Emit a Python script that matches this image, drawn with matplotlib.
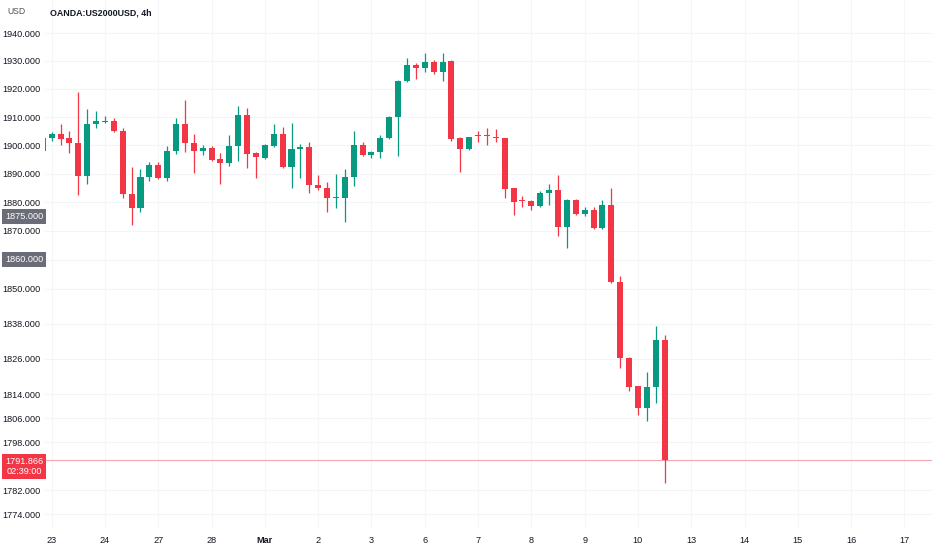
import numpy as np
import matplotlib

matplotlib.use("Agg")
import matplotlib.pyplot as plt
from matplotlib.ticker import FixedLocator, FixedFormatter, NullLocator

plt.rcParams["font.family"] = ["Liberation Sans", "DejaVu Sans"]

# 4h candles, OANDA:US2000USD, last bar of Feb 22 (index -1) to Mar 10
opens = [1898.1, 1902.6, 1903.8, 1902.5, 1900.8, 1889.0, 1907.5, 1908.4, 1908.7, 1905.2,
         1883.0, 1878.0, 1888.7, 1893.0, 1888.3, 1898.1, 1907.5, 1900.8, 1897.9, 1899.0,
         1895.1, 1893.6, 1899.6, 1910.7, 1897.2, 1895.5, 1899.9, 1903.8, 1892.2, 1898.7,
         1899.5, 1886.0, 1885.1, 1881.3, 1881.3, 1888.7, 1900.1, 1896.6, 1897.5, 1902.6,
         1910.1, 1922.9, 1928.5, 1927.4, 1929.6, 1926.1, 1929.9, 1902.5, 1898.7, 1903.5,
         1903.5, 1903.0, 1902.5, 1884.8, 1880.5, 1880.4, 1878.6, 1883.1, 1884.2, 1871.3,
         1880.6, 1875.7, 1877.4, 1871.0, 1879.0, 1852.4, 1826.4, 1816.7, 1809.4, 1816.5,
         1832.5]
highs = [1903.0, 1904.6, 1907.5, 1905.0, 1918.8, 1912.8, 1912.0, 1910.5, 1909.6, 1906.0,
         1892.2, 1891.6, 1894.0, 1894.2, 1899.9, 1909.6, 1916.1, 1904.0, 1900.2, 1899.9,
         1897.3, 1903.6, 1913.8, 1913.1, 1897.5, 1900.5, 1907.5, 1906.6, 1907.9, 1900.5,
         1901.1, 1889.6, 1886.9, 1889.8, 1891.6, 1905.2, 1901.1, 1898.1, 1903.6, 1910.5,
         1923.2, 1931.2, 1929.1, 1932.9, 1930.3, 1932.9, 1930.3, 1903.0, 1903.0, 1905.2,
         1906.0, 1905.8, 1902.6, 1885.1, 1882.2, 1880.6, 1883.9, 1886.5, 1889.5, 1881.0,
         1881.0, 1878.4, 1878.4, 1880.6, 1885.1, 1854.4, 1826.6, 1817.0, 1821.7, 1837.1,
         1834.1]
lows = [1897.6, 1901.6, 1900.2, 1897.3, 1882.4, 1886.5, 1906.0, 1907.8, 1904.6, 1881.6,
        1872.1, 1876.5, 1887.5, 1888.1, 1887.5, 1896.9, 1897.7, 1890.1, 1896.7, 1894.5,
        1886.5, 1892.8, 1894.3, 1891.9, 1888.4, 1895.2, 1899.5, 1891.9, 1884.9, 1888.3,
        1883.1, 1884.2, 1876.5, 1878.0, 1873.0, 1885.5, 1896.3, 1895.5, 1895.5, 1902.2,
        1896.3, 1922.5, 1923.7, 1926.1, 1925.2, 1922.9, 1901.6, 1890.4, 1898.4, 1901.3,
        1900.1, 1901.1, 1881.3, 1875.4, 1878.4, 1877.4, 1878.4, 1878.9, 1868.2, 1864.1,
        1875.4, 1875.3, 1870.6, 1870.6, 1852.1, 1822.9, 1815.3, 1806.9, 1804.9, 1811.2,
        1784.2]
closes = [1902.6, 1903.8, 1902.2, 1900.8, 1889.0, 1907.5, 1908.7, 1908.7, 1905.0, 1882.8,
          1878.0, 1888.7, 1893.0, 1888.3, 1898.1, 1907.5, 1900.8, 1897.9, 1899.0, 1894.9,
          1893.6, 1899.9, 1910.7, 1896.9, 1895.8, 1900.1, 1903.8, 1892.2, 1898.7, 1899.5,
          1885.9, 1884.9, 1881.3, 1881.5, 1888.7, 1900.1, 1896.6, 1897.5, 1902.6, 1910.1,
          1922.9, 1928.5, 1927.4, 1929.6, 1926.1, 1929.7, 1902.2, 1898.7, 1902.8, 1903.3,
          1903.3, 1902.5, 1884.5, 1880.2, 1880.3, 1878.6, 1883.1, 1884.2, 1871.3, 1880.6,
          1875.7, 1877.4, 1871.0, 1879.0, 1852.4, 1826.4, 1816.5, 1809.4, 1816.5, 1832.5,
          1791.866]
ups = [True, True, False, False, False, True, True, True, False, False,
       False, True, True, False, True, True, False, False, True, False,
       False, True, True, False, False, True, True, False, True, True,
       False, False, False, True, True, True, False, True, True, True,
       True, True, False, True, False, True, False, False, True, False,
       False, False, False, False, False, False, True, True, False, True,
       False, True, False, True, False, False, False, False, True, True,
       False]

day_labels = ["23", "24", "27", "28", "Mar", "2", "3", "6", "7", "8", "9",
              "10", "13", "14", "15", "16", "17"]
bars_per_day = 6
price_ticks = [1940, 1930, 1920, 1910, 1900, 1890, 1880, 1870, 1850,
               1838, 1826, 1814, 1806, 1798, 1782, 1774]
grid_prices = price_ticks + [1860]
marker_prices = [1875.0, 1860.0]
last_price = 1791.866
countdown = "02:39:00"

GREEN = "#089981"
RED = "#f23645"
TEXT = "#131722"
FS = 6.6

x = np.arange(-1, len(opens) - 1)
o = np.array(opens)
c = np.array(closes)
h = np.array(highs)
lo = np.array(lows)
colors = [GREEN if u else RED for u in ups]

fig = plt.figure(figsize=(9.32, 5.5), dpi=100)
ax = fig.add_axes([45 / 932, 22 / 550, 887 / 932, 528 / 550])
ax.set_yscale("log")

for gp in grid_prices:
    ax.axhline(gp, color="#f3f4f6", lw=0.8, zorder=0)
day_pos = np.arange(len(day_labels)) * bars_per_day
for dp in day_pos:
    ax.axvline(dp, color="#f5f6f8", lw=0.8, zorder=0)

ax.vlines(x, lo, h, colors=colors, lw=0.9, zorder=2)
body_bottom = np.minimum(o, c)
body_h = np.maximum(np.abs(c - o), 0.35)
ax.bar(x, body_h, bottom=body_bottom, width=0.68, color=colors, edgecolor="none", zorder=3)

ax.axhline(last_price, color="#f7a4ad", lw=0.8, zorder=1)

ax.set_xlim(-0.75, 99.1)
ax.set_ylim(1769.5, 1952.0)

ax.yaxis.set_major_locator(FixedLocator(price_ticks))
ax.yaxis.set_major_formatter(FixedFormatter([f"{p:.3f}" for p in price_ticks]))
ax.yaxis.set_minor_locator(NullLocator())
ax.tick_params(axis="y", length=0, pad=3.4, labelsize=FS, labelcolor=TEXT)

ax.set_xticks(day_pos)
ax.set_xticklabels(day_labels)
ax.tick_params(axis="x", length=0, pad=6.0, labelsize=FS, labelcolor=TEXT)
for lab in ax.get_xticklabels():
    if lab.get_text() == "Mar":
        lab.set_fontweight("bold")

for sp in ax.spines.values():
    sp.set_visible(False)

# price labels on the axis
for mp in marker_prices:
    ax.annotate(f"{mp:.3f}", xy=(24 / 932, mp), xycoords=("figure fraction", "data"),
                ha="center", va="center", fontsize=FS, color="white",
                bbox=dict(boxstyle="square,pad=0.3", fc="#6a6d78", ec="none"),
                annotation_clip=False, zorder=5)
ax.annotate(f"{last_price:.3f}\n{countdown}", xy=(24 / 932, last_price),
            xycoords=("figure fraction", "data"), xytext=(0, -4.3),
            textcoords="offset points", ha="center", va="center",
            fontsize=FS, color="white", linespacing=1.2,
            bbox=dict(boxstyle="square,pad=0.3", fc=RED, ec="none"),
            annotation_clip=False, zorder=5)

fig.text(7 / 932, 1 - 11 / 550, "USD", fontsize=FS - 0.4, color="#50535e", va="center")
fig.text(50 / 932, 1 - 13 / 550, "OANDA:US2000USD, 4h", fontsize=6.4,
         fontweight="bold", color=TEXT, va="center")

fig.savefig("out.png", dpi=100)
